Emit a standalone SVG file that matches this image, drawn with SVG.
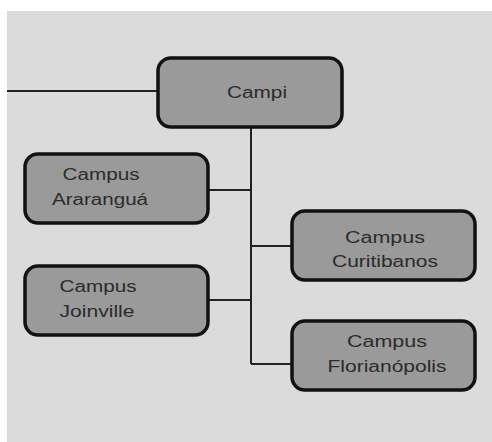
<svg xmlns="http://www.w3.org/2000/svg" width="492" height="442" viewBox="0 0 492 442">
<style>
.bg{fill:#dbdbdb}
.box{fill:#9a9a9a;stroke:#111;stroke-width:3.5}
.lnk{stroke:#222;stroke-width:2;fill:none}
text{font-family:"Liberation Sans",Arial,sans-serif;font-size:16px;fill:#2b2b2b;text-anchor:middle}
</style>
<rect x="0" y="0" width="492" height="442" fill="#ffffff"/>
<rect class="bg" x="7" y="11" width="485" height="431"/>
<g id="connectors">
<path class="lnk" d="M7 91H158"/>
<path class="lnk" d="M251 127V364"/>
<path class="lnk" d="M208 190H251"/>
<path class="lnk" d="M251 246H292"/>
<path class="lnk" d="M208 300H251"/>
<path class="lnk" d="M251 364H292"/>
</g>
<g id="campi">
<rect class="box" x="158" y="58" width="184" height="69" rx="13"/>
<text x="257" y="98" textLength="60" lengthAdjust="spacingAndGlyphs">Campi</text>
</g>
<g id="ararangua">
<rect class="box" x="25" y="154" width="183" height="69" rx="13"/>
<text x="101" y="180" textLength="77" lengthAdjust="spacingAndGlyphs">Campus</text>
<text x="100" y="205" textLength="96" lengthAdjust="spacingAndGlyphs">Araranguá</text>
</g>
<g id="curitibanos">
<rect class="box" x="292" y="211" width="183" height="69" rx="13"/>
<text x="385" y="243" textLength="80" lengthAdjust="spacingAndGlyphs">Campus</text>
<text x="385" y="267" textLength="106" lengthAdjust="spacingAndGlyphs">Curitibanos</text>
</g>
<g id="joinville">
<rect class="box" x="25" y="266" width="183" height="69" rx="13"/>
<text x="98" y="292" textLength="77" lengthAdjust="spacingAndGlyphs">Campus</text>
<text x="97" y="317" textLength="75" lengthAdjust="spacingAndGlyphs">Joinville</text>
</g>
<g id="florianopolis">
<rect class="box" x="292" y="321" width="183" height="69" rx="13"/>
<text x="387" y="347" textLength="80" lengthAdjust="spacingAndGlyphs">Campus</text>
<text x="387" y="372" textLength="119" lengthAdjust="spacingAndGlyphs">Florianópolis</text>
</g>
</svg>
